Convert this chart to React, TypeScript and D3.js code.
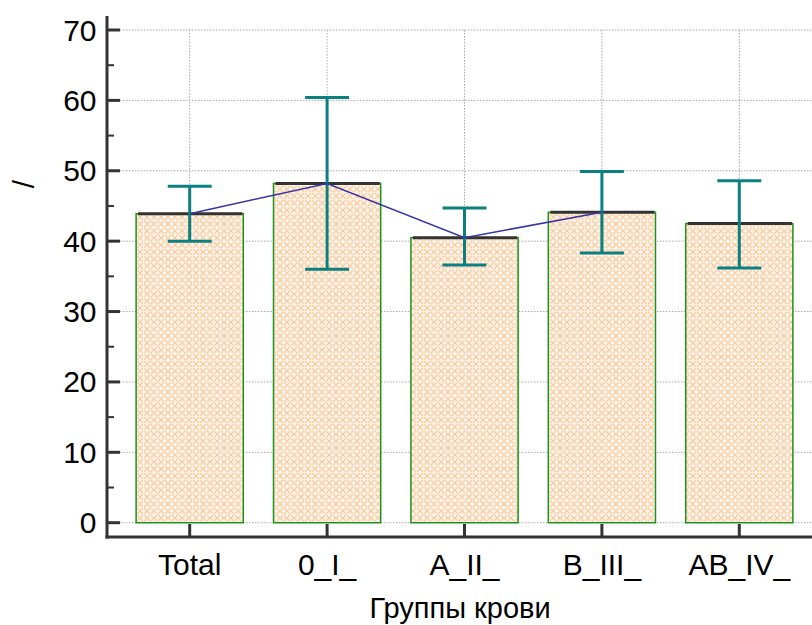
import React from "react";
import * as d3 from "d3";

const categories = ["Total", "0_I_", "A_II_", "B_III_", "AB_IV_"];
const means = [43.9, 48.2, 40.5, 44.1, 42.5];
const upper = [47.8, 60.4, 44.7, 49.9, 48.6];
const lower = [40.0, 36.0, 36.6, 38.3, 36.2];
const lineCategories = ["Total", "0_I_", "A_II_", "B_III_"];
const yMajorTicks = [0, 10, 20, 30, 40, 50, 60, 70];
const yMinorTicks = [5, 15, 25, 35, 45, 55, 65];
const xTitle = "Группы крови";
const yTitle = "/";

const W = 812;
const H = 625;
const axisX = 107;
const axisY = 537;
const font = "Liberation Sans";

export default function App() {
  const x = d3
    .scaleBand<string>()
    .domain(categories)
    .range([121, 808])
    .paddingInner(0.22)
    .paddingOuter(0.11);
  const y = d3.scaleLinear().domain([0, 70]).range([522.7, 30]);
  const cx = (c: string) => (x(c) as number) + x.bandwidth() / 2;
  const line = d3
    .line<string>()
    .x((c) => cx(c))
    .y((c) => y(means[categories.indexOf(c)]));
  const capHalf = 22;

  return (
    <svg
      width={W}
      height={H}
      style={{ position: "absolute", left: 0, top: 0, background: "#fff" }}
    >
      <defs>
        <pattern id="hatch" width="7" height="7" patternUnits="userSpaceOnUse">
          <rect width="7" height="7" fill="#fff2e6" />
          <path d="M0,0 L7,7 M7,0 L0,7" stroke="#fbc99c" strokeWidth="1.2" />
          <circle cx="3.5" cy="3.5" r="1" fill="#fff8f0" />
        </pattern>
      </defs>
      {yMajorTicks.map((t) => (
        <line
          key={"hg" + t}
          x1={120}
          x2={W}
          y1={y(t)}
          y2={y(t)}
          stroke="#a8a8a8"
          strokeWidth={1}
          strokeDasharray="1.5,1.5"
        />
      ))}
      {categories.map((c) => (
        <line
          key={"vg" + c}
          x1={cx(c)}
          x2={cx(c)}
          y1={y(70)}
          y2={y(0)}
          stroke="#a8a8a8"
          strokeWidth={1}
          strokeDasharray="1.5,1.5"
        />
      ))}
      {categories.map((c, i) => (
        <rect
          key={"b" + c}
          x={x(c)}
          y={y(means[i])}
          width={x.bandwidth()}
          height={y(0) - y(means[i])}
          fill="url(#hatch)"
          stroke="#1b931b"
          strokeWidth={1.5}
        />
      ))}
      {categories.map((c, i) => (
        <line
          key={"m" + c}
          x1={(x(c) as number) + 2}
          x2={(x(c) as number) + x.bandwidth() - 1}
          y1={y(means[i])}
          y2={y(means[i])}
          stroke="#333"
          strokeWidth={3}
        />
      ))}
      {categories.map((c, i) => (
        <g key={"e" + c} stroke="#0a8080" strokeWidth={3}>
          <line x1={cx(c)} x2={cx(c)} y1={y(upper[i])} y2={y(lower[i])} />
          <line
            x1={cx(c) - capHalf}
            x2={cx(c) + capHalf}
            y1={y(upper[i])}
            y2={y(upper[i])}
          />
          <line
            x1={cx(c) - capHalf}
            x2={cx(c) + capHalf}
            y1={y(lower[i])}
            y2={y(lower[i])}
          />
        </g>
      ))}
      <path
        d={line(lineCategories) || ""}
        fill="none"
        stroke="#3535a5"
        strokeWidth={1.5}
      />
      <line x1={axisX} x2={axisX} y1={16} y2={axisY + 1.5} stroke="#333" strokeWidth={3} />
      <line x1={axisX - 1.5} x2={W} y1={axisY} y2={axisY} stroke="#333" strokeWidth={3} />
      {yMajorTicks.map((t) => (
        <g key={"yt" + t}>
          <line x1={axisX} x2={120} y1={y(t)} y2={y(t)} stroke="#333" strokeWidth={3} />
          <text
            x={96.5}
            y={y(t) + 10.5}
            textAnchor="end"
            fontFamily={font}
            fontSize={30}
            fill="#000"
          >
            {t}
          </text>
        </g>
      ))}
      {yMinorTicks.map((t) => (
        <line
          key={"ym" + t}
          x1={axisX}
          x2={114}
          y1={y(t)}
          y2={y(t)}
          stroke="#333"
          strokeWidth={2}
        />
      ))}
      {categories.map((c) => (
        <g key={"xt" + c}>
          <line x1={cx(c)} x2={cx(c)} y1={axisY} y2={524} stroke="#333" strokeWidth={3} />
          <text
            x={cx(c)}
            y={575}
            textAnchor="middle"
            fontFamily={font}
            fontSize={30}
            fill="#000"
          >
            {c}
          </text>
        </g>
      ))}
      <text
        x={460}
        y={618}
        textAnchor="middle"
        fontFamily={font}
        fontSize={29}
        fill="#000"
      >
        {xTitle}
      </text>
      <text
        transform={`translate(34,184) rotate(-90)`}
        textAnchor="middle"
        fontFamily={font}
        fontSize={30}
        fill="#000"
      >
        {yTitle}
      </text>
    </svg>
  );
}
